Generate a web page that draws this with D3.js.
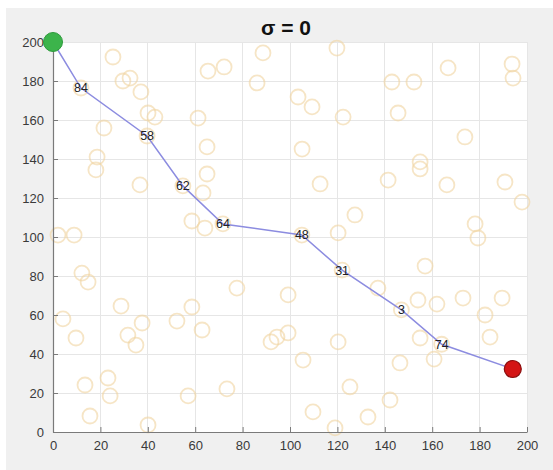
<!DOCTYPE html>
<html><head><meta charset="utf-8">
<script src="https://cdn.jsdelivr.net/npm/d3@7"></script>
<style>
html,body{margin:0;padding:0;background:#fff;}
svg{display:block;font-family:"Liberation Sans",Arial,Helvetica,sans-serif;}
</style></head>
<body>
<svg id="chart" width="553" height="470"></svg>
<script>
// ---- data ----
const titleText = "σ = 0";
const xTicks = [0,20,40,60,80,100,120,140,160,180,200];
const yTicks = [0,20,40,60,80,100,120,140,160,180,200];

// obstacle circles (x, y)
const obstacleX = [25.3,29.5,32.5,37.1,40.1,43.0,21.5,18.6,18.1,36.7,61.2,65,65,63.3,58.6,64.1,65.4,72.2,88.6,86.1,
  2.1,8.9,103.4,109.3,105.1,112.7,119.8,122.4,127.4,120.3,141.4,143,152.3,145.6,154.9,154.9,166.2,166.7,173.8,178.1,
  179.3,190.7,193.7,194.1,197.9,12.2,14.8,28.7,4.2,37.6,9.7,31.6,35,13.5,23.2,24.1,15.6,40.1,77.6,58.6,
  52.3,62.9,73.4,57,92,94.5,99.2,99.2,105.5,120.3,109.7,119,125.3,132.9,142.2,146.4,154.9,160.8,154,162,
  173,182.3,189.5,184.4,157,137.1];
const obstacleY = [192.3,180,181.5,174.4,163.6,161.5,155.9,141,134.4,126.7,161,146.2,132.3,122.6,108.2,104.6,185.1,187.2,194.4,179,
  101,101,171.8,166.7,145.1,127.2,196.9,161.5,111.3,102.1,129.2,179.5,179.5,163.6,138.5,134.9,126.7,186.7,151.3,106.7,
  99.5,128.2,188.7,181.5,117.9,81.5,76.9,64.6,58,55.9,48.2,49.7,44.6,24.1,27.7,18.5,8.2,3.6,73.8,64.1,
  56.9,52.3,22.1,18.5,46.2,48.7,50.8,70.3,36.9,46.2,10.3,2.1,23.1,7.7,16.4,35.4,48.2,37.4,67.7,65.6,
  68.7,60,68.7,48.7,85.1,73.8];

// path: start, labelled nodes, goal
const pathX = [0,11.8,39.7,54.8,71.7,105,122,147,164,194];
const pathY = [200,176.4,151.8,126.2,106.7,101,83,62.6,45,32.3];
const nodeLabels = ["","84","58","62","64","48","31","3","74",""];

// ---- drawing ----
const svg = d3.select("#chart");
const W = 553, H = 470;
svg.append("rect").attr("x",6).attr("y",8).attr("width",W-6).attr("height",H-8).attr("fill","#f0f0f0");

const x = d3.scaleLinear().domain([0,200]).range([53,527]);
const y = d3.scaleLinear().domain([0,200]).range([432,42]);

svg.append("rect").attr("x",x(0)).attr("y",y(200))
  .attr("width",x(200)-x(0)).attr("height",y(0)-y(200)).attr("fill","#ffffff");

// grid
const grid = svg.append("g");
grid.selectAll(".gx").data(xTicks).join("line")
  .attr("x1",d=>x(d)).attr("x2",d=>x(d)).attr("y1",y(0)).attr("y2",y(200))
  .attr("stroke","#e6e6e6").attr("stroke-width",1).attr("shape-rendering","crispEdges");
grid.selectAll(".gy").data(yTicks).join("line")
  .attr("y1",d=>y(d)).attr("y2",d=>y(d)).attr("x1",x(0)).attr("x2",x(200))
  .attr("stroke","#e6e6e6").attr("stroke-width",1).attr("shape-rendering","crispEdges");

// obstacles
const obs = obstacleX.map((v,i)=>({x:v,y:obstacleY[i]}));
svg.append("g").selectAll("circle").data(obs).join("circle")
  .attr("cx",d=>x(d.x)).attr("cy",d=>y(d.y)).attr("r",7.5)
  .attr("fill","none").attr("stroke","#f0d3a0").attr("stroke-width",1.8).attr("opacity",0.6);

// node circles beneath labels
const nodes = pathX.map((v,i)=>({x:v,y:pathY[i],label:nodeLabels[i]}));
svg.append("g").selectAll("circle").data(nodes.slice(1,-1)).join("circle")
  .attr("cx",d=>x(d.x)).attr("cy",d=>y(d.y)).attr("r",7.5)
  .attr("fill","none").attr("stroke","#f0d3a0").attr("stroke-width",1.8).attr("opacity",0.6);

// axes
const xAxis = d3.axisBottom(x).tickValues(xTicks).tickSizeInner(-5).tickSizeOuter(0).tickPadding(9);
const yAxis = d3.axisLeft(y).tickValues(yTicks).tickSizeInner(-5).tickSizeOuter(0).tickPadding(9);
const gx = svg.append("g").attr("transform",`translate(0,${y(0)})`).call(xAxis);
const gy = svg.append("g").attr("transform",`translate(${x(0)},0)`).call(yAxis);
[gx,gy].forEach(g=>{
  g.select(".domain").attr("stroke","#7a7a7a").attr("stroke-width",1.2);
  g.selectAll(".tick line").attr("stroke","#7a7a7a");
  g.selectAll(".tick text").attr("fill","#3a3a3a").style("font-size","13px")
    .style("font-family","'Liberation Sans',Arial,sans-serif");
});

// path line
const line = d3.line().x(d=>x(d.x)).y(d=>y(d.y));
svg.append("path").datum(nodes).attr("d",line)
  .attr("fill","none").attr("stroke","#8c8ce0").attr("stroke-width",1.5);

// labels
svg.append("g").selectAll("text").data(nodes.filter(d=>d.label)).join("text")
  .attr("x",d=>x(d.x)).attr("y",d=>y(d.y)).attr("dy","0.35em")
  .attr("text-anchor","middle").attr("fill","#222").style("font-size","12.5px")
  .text(d=>d.label);

// start / goal
svg.append("circle").attr("cx",x(pathX[0])).attr("cy",y(pathY[0])).attr("r",9.5)
  .attr("fill","#3cb44b").attr("stroke","#2e9a3c").attr("stroke-width",1);
const last = pathX.length-1;
svg.append("circle").attr("cx",x(pathX[last])).attr("cy",y(pathY[last])).attr("r",8.5)
  .attr("fill","#d41515").attr("stroke","#8a0f0f").attr("stroke-width",1.2);

// title
svg.append("text").attr("x",(x(0)+x(200))/2 - 4).attr("y",35).attr("text-anchor","middle")
  .style("font-size","21px").style("font-weight","bold").attr("fill","#111").text(titleText);
</script>
</body></html>
